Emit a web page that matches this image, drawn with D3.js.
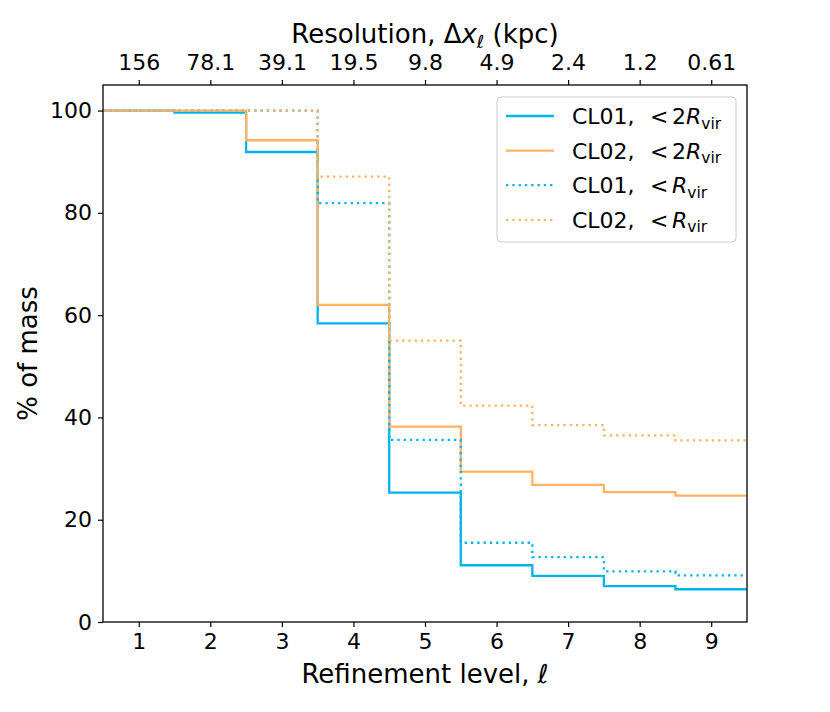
<!DOCTYPE html>
<html>
<head>
<meta charset="utf-8">
<script src="https://cdn.jsdelivr.net/npm/d3@7"></script>
<style>
  body { margin: 0; background: #fff; }
  text { font-family: "DejaVu Sans", sans-serif; fill: #000; }
</style>
</head>
<body>
<div id="plot"></div>
<script>
// refinement levels and the top-axis resolution labels
var levels   = [1, 2, 3, 4, 5, 6, 7, 8, 9];
var resLabels = ["156", "78.1", "39.1", "19.5", "9.8", "4.9", "2.4", "1.2", "0.61"];
var yTicks   = [0, 20, 40, 60, 80, 100];

// % of mass per level
var cl01_2rvir = [100, 99.6, 91.9, 58.4, 25.3, 11.1, 9.0, 7.0, 6.4];
var cl02_2rvir = [100, 100, 94.2, 62.0, 38.2, 29.4, 26.8, 25.4, 24.7];
var cl01_rvir  = [100, 100, 100, 81.9, 35.6, 15.5, 12.7, 9.9, 9.1];
var cl02_rvir  = [100, 100, 100, 87.1, 55.0, 42.3, 38.5, 36.5, 35.5];

var blue   = "#00b4ea";
var orange = "#ffb262";

var series = [
  {name: "CL01,", r: "2", vals: cl01_2rvir, color: blue,   dotted: false},
  {name: "CL02,", r: "2", vals: cl02_2rvir, color: orange, dotted: false},
  {name: "CL01,", r: "",  vals: cl01_rvir,  color: blue,   dotted: true},
  {name: "CL02,", r: "",  vals: cl02_rvir,  color: orange, dotted: true}
];

var W = 830, H = 712;
var margin = {top: 85, right: 83, bottom: 90, left: 103};
var width  = W - margin.left - margin.right;
var height = H - margin.top - margin.bottom;
var lw = 2.3, dots = "2.3,4";

var svg = d3.select("#plot").append("svg")
    .attr("width", W).attr("height", H);

var g = svg.append("g")
    .attr("transform", "translate(" + margin.left + "," + margin.top + ")");

var x = d3.scaleLinear().domain([0.5, 9.5]).range([0, width]);
var y = d3.scaleLinear().domain([0, 105]).range([height, 0]);

g.append("clipPath").attr("id", "clip")
  .append("rect").attr("width", width).attr("height", height);

// step line: each level covers [l-0.5, l+0.5]
var stepLine = d3.line()
    .curve(d3.curveStepAfter)
    .x(function (d) { return x(d[0]); })
    .y(function (d) { return y(d[1]); });

function stepPoints(vals) {
  var pts = levels.map(function (l, i) { return [l - 0.5, vals[i]]; });
  pts.push([levels[levels.length - 1] + 0.5, vals[vals.length - 1]]);
  return pts;
}

var lines = g.append("g").attr("clip-path", "url(#clip)");
series.forEach(function (s) {
  lines.append("path")
    .attr("d", stepLine(stepPoints(s.vals)))
    .attr("fill", "none")
    .attr("stroke", s.color)
    .attr("stroke-width", lw)
    .attr("stroke-dasharray", s.dotted ? dots : null);
});

// axes
var xAxis = d3.axisBottom(x).tickValues(levels).tickSize(5).tickPadding(6).tickSizeOuter(0);
var xTop  = d3.axisTop(x).tickValues(levels).tickSize(5).tickPadding(10).tickSizeOuter(0)
    .tickFormat(function (d, i) { return resLabels[i]; });
var yAxis = d3.axisLeft(y).tickValues(yTicks).tickSize(5).tickPadding(6).tickSizeOuter(0);

function styleAxis(sel) {
  sel.select(".domain").remove();
  sel.selectAll(".tick line").attr("stroke", "#000").attr("stroke-width", 1.2);
  sel.selectAll(".tick text").style("font-size", "22px").style("font-family", "DejaVu Sans");
}

g.append("g").attr("transform", "translate(0," + height + ")").call(xAxis).call(styleAxis);
g.append("g").call(xTop).call(styleAxis);
g.append("g").call(yAxis).call(styleAxis);

// frame
g.append("rect")
  .attr("width", width).attr("height", height)
  .attr("fill", "none").attr("stroke", "#000").attr("stroke-width", 1.3);

// axis labels
g.append("text")
  .attr("x", width / 2).attr("y", height + 61)
  .attr("text-anchor", "middle").style("font-size", "26px")
  .call(function (t) {
    t.append("tspan").text("Refinement level, ");
    t.append("tspan").style("font-style", "italic").text("ℓ");
  });

var topLabel = g.append("text")
  .attr("x", width / 2).attr("y", -42)
  .attr("text-anchor", "middle").style("font-size", "26px");
topLabel.append("tspan").text("Resolution, Δ");
topLabel.append("tspan").style("font-style", "italic").text("x");
topLabel.append("tspan").style("font-style", "italic").style("font-size", "18px").attr("dy", 5).text("ℓ");
topLabel.append("tspan").attr("dy", -5).text(" (kpc)");

g.append("text")
  .attr("transform", "translate(-66," + (height / 2) + ") rotate(-90)")
  .attr("text-anchor", "middle").style("font-size", "26px")
  .text("% of mass");

// legend
var leg = g.append("g").attr("transform", "translate(" + (497 - margin.left) + "," + (97 - margin.top) + ")");
leg.append("rect")
  .attr("width", 239).attr("height", 145).attr("rx", 4)
  .attr("fill", "#fff").attr("fill-opacity", 0.8)
  .attr("stroke", "#ccc").attr("stroke-width", 1);

series.forEach(function (s, i) {
  var yy = 19 + i * 34.6;
  leg.append("line")
    .attr("x1", 9).attr("x2", 57).attr("y1", yy).attr("y2", yy)
    .attr("stroke", s.color).attr("stroke-width", lw)
    .attr("stroke-dasharray", s.dotted ? dots : null);
  var t = leg.append("text").attr("y", yy + 8).style("font-size", "22px");
  t.append("tspan").attr("x", 75).text(s.name);
  t.append("tspan").attr("x", 153).text("<");
  var rStart;
  if (s.r) {
    t.append("tspan").attr("x", 175).text(s.r);
    rStart = t.append("tspan");
  } else {
    rStart = t.append("tspan").attr("x", 175);
  }
  rStart.style("font-style", "italic").text("R");
  t.append("tspan").style("font-size", "15.5px").attr("dy", 4.5).text("vir");
});
</script>
</body>
</html>
